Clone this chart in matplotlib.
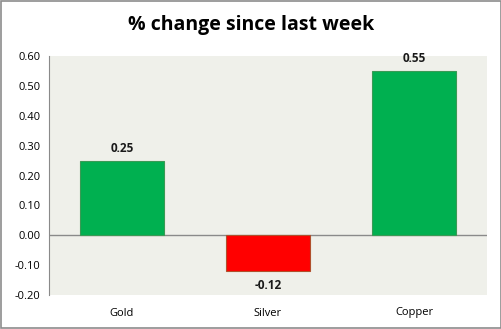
import matplotlib

matplotlib.use("Agg")
import matplotlib.pyplot as plt
from matplotlib.patches import Rectangle

metals = ["Gold", "Silver", "Copper"]
changes = [0.25, -0.12, 0.55]
y_ticks = [-0.20, -0.10, 0.00, 0.10, 0.20, 0.30, 0.40, 0.50, 0.60]

plt.rcParams["font.family"] = ["Open Sans", "DejaVu Sans"]

fig = plt.figure(figsize=(5.02, 3.29), dpi=100)
fig.patch.set_facecolor("white")
fig.patches.append(Rectangle((0.002, 0.003), 0.996, 0.994, transform=fig.transFigure,
                             fill=False, edgecolor="#8c8c8c", linewidth=1.2))

ax = fig.add_axes([49 / 502, 1 - 295 / 329, (487 - 49) / 502, (295 - 56) / 329])
ax.set_facecolor("#eff0ea")

colors = ["#00b050" if v >= 0 else "#ff0000" for v in changes]
edges = ["#3a9a55" if v >= 0 else "#b0502c" for v in changes]
x = range(len(metals))
ax.bar(x, changes, width=0.57, color=colors, edgecolor=edges, linewidth=0.8, zorder=3)

# value labels above/below each bar
for i, v in enumerate(changes):
    off = 0.02 if v >= 0 else -0.028
    ax.text(i, v + off, f"{v:.2f}", ha="center", va="bottom" if v >= 0 else "top",
            fontsize=8.5, fontweight="bold", color="#1a1a1a")

ax.axhline(0, color="#8a8a8a", linewidth=1.0, zorder=2)
ax.set_xlim(-0.5, 2.5)
ax.set_ylim(-0.20, 0.60)
ax.set_yticks(y_ticks)
ax.set_yticklabels([f"{t:.2f}" for t in y_ticks], fontsize=8)
ax.set_xticks(list(x))
ax.set_xticklabels(metals, fontsize=8)
ax.tick_params(axis="both", length=0, pad=6)
ax.tick_params(axis="x", pad=9)
for side in ["top", "right", "bottom"]:
    ax.spines[side].set_visible(False)
ax.spines["left"].set_color("#8a8a8a")

fig.text(0.5, 1 - 25 / 329, "% change since last week", ha="center", va="center",
         fontsize=14, fontweight="bold")

fig.savefig("out.png", dpi=100)
